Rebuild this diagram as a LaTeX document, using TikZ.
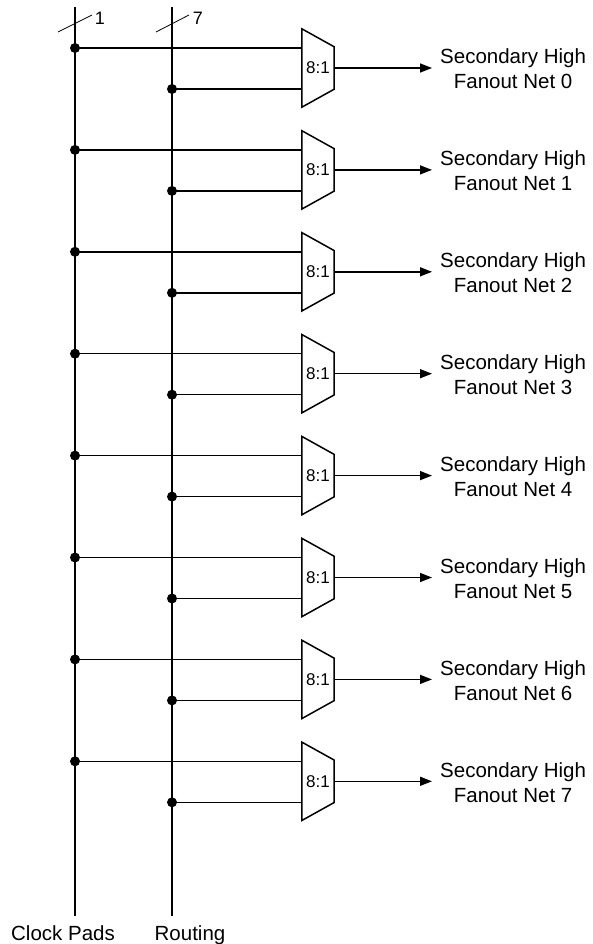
\documentclass[tikz,border=0pt]{standalone}
\usepackage{fontspec}
\setmainfont{Liberation Sans}
\usetikzlibrary{arrows.meta}

\begin{document}
\begin{tikzpicture}[x=1pt, y=-1pt,
bus/.style={draw=black, line width=1.5pt},
wire/.style={draw=black, line width=1.5pt},
buswidth/.style={draw=black, line width=0.8pt},
tap/.style={circle, fill=black, inner sep=0pt, minimum size=10pt},
mux/.style={rectangle, minimum width=32pt, minimum height=78pt, inner sep=0pt, font=\fontsize{17}{20}\selectfont},
netlabel/.style={anchor=west, align=center, inner xsep=8pt, inner ysep=0pt, font=\fontsize{20.5}{25}\selectfont},
buslabel/.style={anchor=base, inner sep=0pt, font=\fontsize{20.5}{25}\selectfont},
countlabel/.style={inner sep=0pt, font=\fontsize{18}{21}\selectfont},
]
\useasboundingbox (0,0) rectangle (592,944);

% clock pads and routing buses
\coordinate (clktop) at (75,7);
\coordinate (clkbot) at (75,916);
\coordinate (rtetop) at (172,7);
\coordinate (rtebot) at (172,916);
\draw[bus] (clktop) -- (clkbot);
\draw[bus] (rtetop) -- (rtebot);
\node[buslabel] (clk) at (63,940) {Clock Pads};
\node[buslabel] (rte) at (190,940) {Routing};

% bus widths
\draw[buswidth] (58,32) -- (92,15);
\node[countlabel] (clkwidth) at (100,18) {1};
\draw[buswidth] (156,32) -- (189,15);
\node[countlabel] (rtewidth) at (198,18) {7};

% one 8:1 mux per secondary net
\foreach \i in {0,...,7}{
  \pgfmathsetmacro{\yc}{68+101.9*\i}
  \node[mux] (mux\i) at (318,\yc) {8:1};
  \draw[wire] (mux\i.north west) -- ([yshift=-18pt]mux\i.north east)
    -- ([yshift=18pt]mux\i.south east) -- (mux\i.south west) -- cycle;
  \node[tap] (ck\i) at (75,\yc-20) {};
  \node[tap] (rt\i) at (172,\yc+21) {};
  \draw[wire] (ck\i.center) -- (mux\i.west |- ck\i);
  \draw[wire] (rt\i.center) -- (mux\i.west |- rt\i);
  \node[netlabel] (net\i) at (432,\yc+1) {Secondary High\\Fanout Net \i};
  \draw[wire, -{Triangle[length=12pt,width=9pt]}] (mux\i.east) -- (mux\i.east -| net\i.west);
}
\end{tikzpicture}
\end{document}
